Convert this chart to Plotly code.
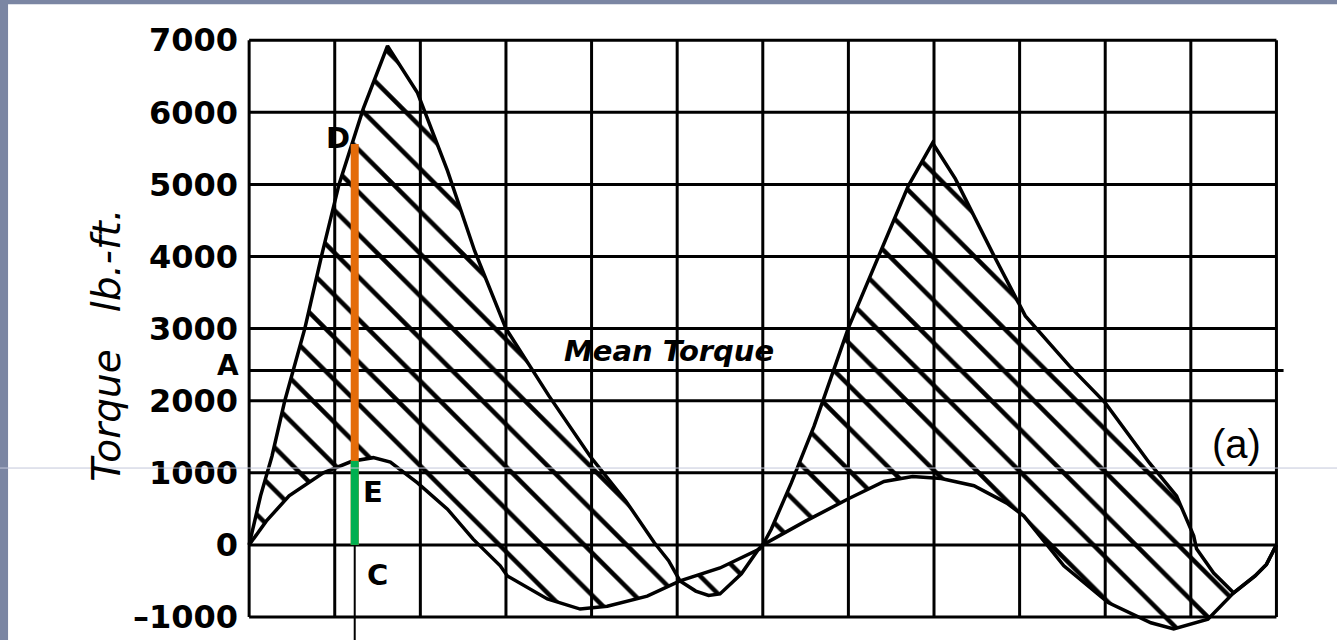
import plotly.graph_objects as go

# ---- data (crank angle in degrees, torque in lb.-ft.) ----
upper_angle = [0, 8, 16, 25, 39, 51, 63, 80, 97, 118, 139, 158, 180, 210, 239, 264, 284, 294, 302,
               313, 322, 330, 345, 357, 360,
               366, 380, 396, 420, 441, 462, 479, 495, 521, 544, 575, 600, 631, 650, 662, 664,
               676, 690, 705, 713, 720]
upper_torque = [0, 680, 1230, 2000, 3000, 4030, 5000, 6050, 6920, 6270, 5190, 4080, 3000, 2070, 1230, 610, 30, -220, -500,
                -640, -700, -680, -400, -60, 0,
                220, 860, 1650, 3010, 4010, 4980, 5575, 5076, 4050, 3176, 2480, 1970, 1137, 680, 125, -55,
                -390, -665, -430, -270, 0]

lower_angle = [0, 12, 28, 52, 72, 87, 99, 118, 139, 157, 176, 181, 209, 232, 251, 279, 302, 330, 358, 360,
               390, 420, 445, 465, 485, 508, 531, 543, 571, 602, 632, 648, 672, 690, 705, 713, 720]
lower_torque = [0, 330, 680, 1000, 1160, 1210, 1150, 860, 495, 80, -290, -430, -750, -890, -850, -710, -500, -320, -55, 0,
                330, 640, 880, 950, 920, 820, 580, 400, -290, -800, -1080, -1165, -1030, -665, -430, -270, 0]

mean_torque = 2420
section_angle = 74
torque_D = 5560
torque_E = 1165

y_ticks = [7000, 6000, 5000, 4000, 3000, 2000, 1000, 0, -1000]
y_tick_labels = ["7000", "6000", "5000", "4000", "3000", "2000", "1000", "0", "\u20131000"]
grid_angles = [0, 60, 120, 180, 240, 300, 360, 420, 480, 540, 600, 660, 720]

# ---- figure ----
fig = go.Figure()
fig.add_trace(go.Scatter(x=lower_angle, y=lower_torque, mode="lines",
                         line=dict(color="black", width=3.5), hoverinfo="skip", showlegend=False))
fig.add_trace(go.Scatter(x=upper_angle, y=upper_torque, mode="lines",
                         line=dict(color="black", width=3.5), hoverinfo="skip", showlegend=False,
                         fill="tonexty", fillcolor="rgba(0,0,0,0)",
                         fillpattern=dict(shape="\\", fgcolor="black", bgcolor="rgba(0,0,0,0)",
                                          fgopacity=1, fillmode="replace",
                                          size=30, solidity=0.15)))

bg_blue = "#7b86a3"
x_lo, x_hi = grid_angles[0], grid_angles[-1]
y_lo, y_hi = y_ticks[-1], y_ticks[0]

shapes = [
    # white scanned sheet
    dict(type="rect", xref="paper", yref="paper", x0=-0.2243, x1=1.1, y0=-0.05, y1=1.0474,
         fillcolor="white", line=dict(width=0), layer="below"),
]
# grid / frame drawn over the data scales
for v in y_ticks:
    shapes.append(dict(type="line", xref="x", yref="y", x0=x_lo, x1=x_hi, y0=v, y1=v,
                       line=dict(color="black", width=3), layer="below"))
for a in grid_angles:
    shapes.append(dict(type="line", xref="x", yref="y", x0=a, x1=a, y0=y_lo, y1=y_hi,
                       line=dict(color="black", width=3), layer="below"))
shapes += [
    # mean torque line
    dict(type="line", xref="x", yref="y", x0=x_lo, x1=725, y0=mean_torque, y1=mean_torque,
         line=dict(color="black", width=3), layer="above"),
    # section line through C
    dict(type="line", xref="x", yref="y", x0=section_angle, x1=section_angle, y0=0, y1=-1400,
         line=dict(color="black", width=2), layer="above"),
    dict(type="line", xref="x", yref="y", x0=section_angle, x1=section_angle, y0=0, y1=torque_D,
         line=dict(color="#E46C0A", width=8), layer="above"),
    dict(type="line", xref="x", yref="y", x0=section_angle, x1=section_angle, y0=0, y1=torque_E,
         line=dict(color="#00B050", width=8), layer="above"),
    # faint slide guide line
    dict(type="line", xref="paper", yref="paper", x0=-0.232, x1=1.05, y0=0.2833, y1=0.2833,
         line=dict(color="#c3c7da", width=1), layer="above"),
]

letter_font = dict(family="DejaVu Sans", size=29, color="black", weight="bold")
annotations = [
    dict(x=-0.1533, y=0.4858, xref="paper", yref="paper", text="Torque   lb.-ft.", textangle=-90,
         showarrow=False, font=dict(family="DejaVu Sans", size=39, color="black", style="italic")),
    dict(x=294, y=mean_torque, xref="x", yref="y", text="Mean Torque", showarrow=False,
         yanchor="bottom", yshift=0,
         font=dict(family="DejaVu Sans", size=29, color="black", style="italic", weight="bold")),
    dict(x=0, y=mean_torque, xref="x", yref="y", text="A", showarrow=False, xanchor="right",
         xshift=-8, yshift=5, font=dict(family="DejaVu Sans", size=28, color="black", weight="bold")),
    dict(x=62, y=5650, xref="x", yref="y", text="D", showarrow=False, font=letter_font),
    dict(x=87, y=736, xref="x", yref="y", text="E", showarrow=False, font=letter_font),
    dict(x=90, y=-415, xref="x", yref="y", text="C", showarrow=False, font=letter_font),
    dict(x=692, y=1397, xref="x", yref="y", text="(a)", showarrow=False,
         font=dict(family="Liberation Sans", size=40, color="black")),
]

fig.update_layout(
    width=1337, height=640,
    margin=dict(l=241.87, r=52.43, t=32.79, b=0, pad=0),
    paper_bgcolor=bg_blue, plot_bgcolor="rgba(0,0,0,0)",
    shapes=shapes, annotations=annotations,
    xaxis=dict(range=[-5, 726], showticklabels=False, ticks="", showgrid=False,
               zeroline=False, showline=False),
    yaxis=dict(range=[-1319, 7100], tickvals=y_ticks, ticktext=y_tick_labels, ticks="",
               showgrid=False, zeroline=False, showline=False, ticklabelstandoff=3,
               tickfont=dict(family="DejaVu Sans", size=32, color="black", weight="bold")),
)

fig.write_html("out.html", config={"displayModeBar": False},
               post_script="document.body.style.margin='0';document.body.style.overflow='hidden';")
